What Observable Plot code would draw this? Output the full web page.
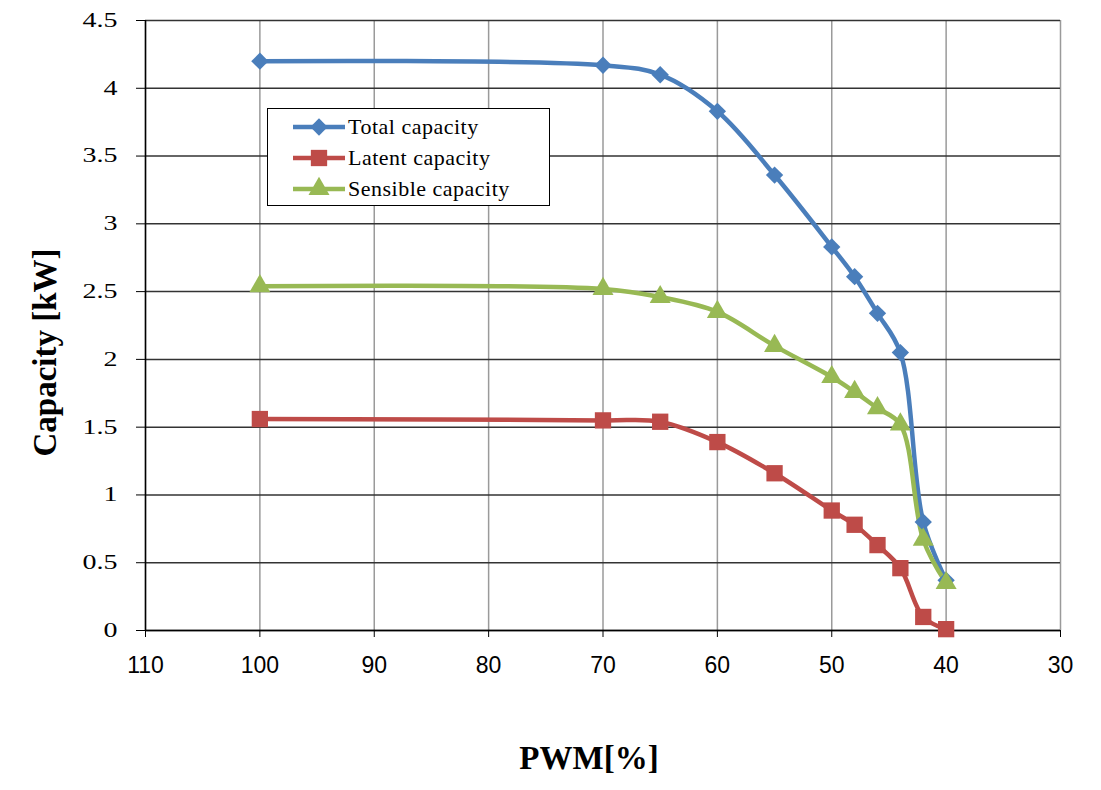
<!DOCTYPE html>
<html><head><meta charset="utf-8">
<script src="https://cdn.jsdelivr.net/npm/d3@7"></script>
<script src="https://cdn.jsdelivr.net/npm/@observablehq/plot@0.6"></script>
<style>
body{margin:0;background:#fff;}
#wrap{position:relative;width:1101px;height:790px;}
#legend{position:absolute;left:267px;top:108px;width:283px;height:98px;border:1.5px solid #000;background:#fff;box-sizing:border-box;font-family:"Liberation Serif","Times New Roman",serif;font-size:22px;color:#000;}
.row{position:absolute;left:0;height:30px;width:100%;}
.row svg{position:absolute;left:24px;top:0;}
.row span{position:absolute;left:80px;top:1px;line-height:28px;white-space:nowrap;letter-spacing:0.5px;}
</style></head><body><div id="wrap"></div>
<script>
const pwm = [100, 70, 65, 60, 55, 50, 48, 46, 44, 42, 40];
const totalCapacity = [4.20, 4.17, 4.10, 3.83, 3.36, 2.83, 2.61, 2.34, 2.05, 0.80, 0.37];
const latentCapacity = [1.56, 1.55, 1.54, 1.39, 1.16, 0.885, 0.78, 0.63, 0.46, 0.10, 0.01];
const sensibleCapacity = [2.54, 2.52, 2.46, 2.35, 2.10, 1.87, 1.76, 1.64, 1.52, 0.67, 0.35];
const seriesNames = ["Total capacity", "Latent capacity", "Sensible capacity"];
const xTicks = [110, 100, 90, 80, 70, 60, 50, 40, 30];
const yTicks = [0, 0.5, 1, 1.5, 2, 2.5, 3, 3.5, 4, 4.5];
const xLabel = "PWM[%]";
const yLabel = "Capacity [kW]";

const colors = ["#4A7EBB", "#BE4B48", "#98B954"];
const symbols = ["diamond2", "square", "triangle"];
const radii = [7.8, 9.2, 7.8];
const seriesValues = [totalCapacity, latentCapacity, sensibleCapacity];

const rows = [];
seriesNames.forEach((name, i) => {
  pwm.forEach((p, j) => rows.push({series: name, pwm: p, cap: seriesValues[i][j]}));
});

const serif = '"Liberation Serif","Times New Roman",serif';
const sans = '"Liberation Sans",Arial,sans-serif';

const marks = [
  Plot.gridX(xTicks, {stroke: "#9a9a9a", strokeOpacity: 1, strokeWidth: 1.5}),
  Plot.gridY(yTicks, {stroke: "#333", strokeOpacity: 1, strokeWidth: 1.5}),
  Plot.ruleX([110], {stroke: "#000", strokeWidth: 1.5}),
  Plot.ruleY([0], {stroke: "#000", strokeWidth: 1.5}),
  Plot.axisY(yTicks, {tickSize: 9, tickPadding: 19, fontSize: 20, fontFamily: serif, fill: "#000", stroke: "#000", label: null, tickFormat: d => String(d)}),
  Plot.axisX(xTicks, {tickSize: 7, tickPadding: 19, fontSize: 23, fontFamily: sans, fill: "#000", stroke: "#000", label: null, tickFormat: d => String(d)}),
];
seriesNames.forEach((name, i) => {
  const data = rows.filter(d => d.series === name);
  marks.push(Plot.line(data, {x: "pwm", y: "cap", stroke: colors[i], strokeWidth: 4.5, curve: "catmull-rom"}));
});
seriesNames.forEach((name, i) => {
  const data = rows.filter(d => d.series === name);
  marks.push(Plot.dot(data, {x: "pwm", y: "cap", fill: colors[i], stroke: "none", symbol: symbols[i], r: radii[i]}));
});
marks.push(Plot.text([xLabel], {frameAnchor: "bottom", textAnchor: "middle", dx: -14, dy: 138, fontSize: 33, fontWeight: "bold", fontFamily: serif, fill: "#000"}));
marks.push(Plot.text([yLabel], {frameAnchor: "left", textAnchor: "middle", rotate: -90, dx: -100, dy: 27, fontSize: 33, fontWeight: "bold", fontFamily: serif, fill: "#000"}));

const chart = Plot.plot({
  width: 1101,
  height: 790,
  marginLeft: 145,
  marginRight: 41,
  marginTop: 20,
  marginBottom: 160,
  x: {domain: [110, 30], axis: null},
  y: {domain: [0, 4.5], axis: null},
  style: {background: "#fff", color: "#000", overflow: "visible"},
  marks
});
// widen the serif y tick labels horizontally, as in the reference
d3.select(chart).selectAll('g[aria-label="y-axis tick label"] text').each(function() {
  const t = this.getAttribute("transform") || "";
  this.setAttribute("transform", t + " scale(1.4,1)");
});
const wrap = document.getElementById("wrap");
wrap.appendChild(chart);

// legend
const legend = document.createElement("div");
legend.id = "legend";
const rowTops = [3, 34, 65];
const symMap = {diamond2: d3.symbolDiamond2, square: d3.symbolSquare, triangle: d3.symbolTriangle};
seriesNames.forEach((name, i) => {
  const row = document.createElement("div");
  row.className = "row";
  row.style.top = rowTops[i] + "px";
  const s = d3.create("svg").attr("width", 54).attr("height", 30);
  s.append("line").attr("x1", 1).attr("x2", 53).attr("y1", 15).attr("y2", 15).attr("stroke", colors[i]).attr("stroke-width", 4.5);
  s.append("path").attr("transform", "translate(27,15)")
    .attr("d", d3.symbol(symMap[symbols[i]], Math.PI * radii[i] * radii[i])())
    .attr("fill", colors[i]);
  row.appendChild(s.node());
  const t = document.createElement("span");
  t.textContent = name;
  row.appendChild(t);
  legend.appendChild(row);
});
wrap.appendChild(legend);
</script>
</body></html>
